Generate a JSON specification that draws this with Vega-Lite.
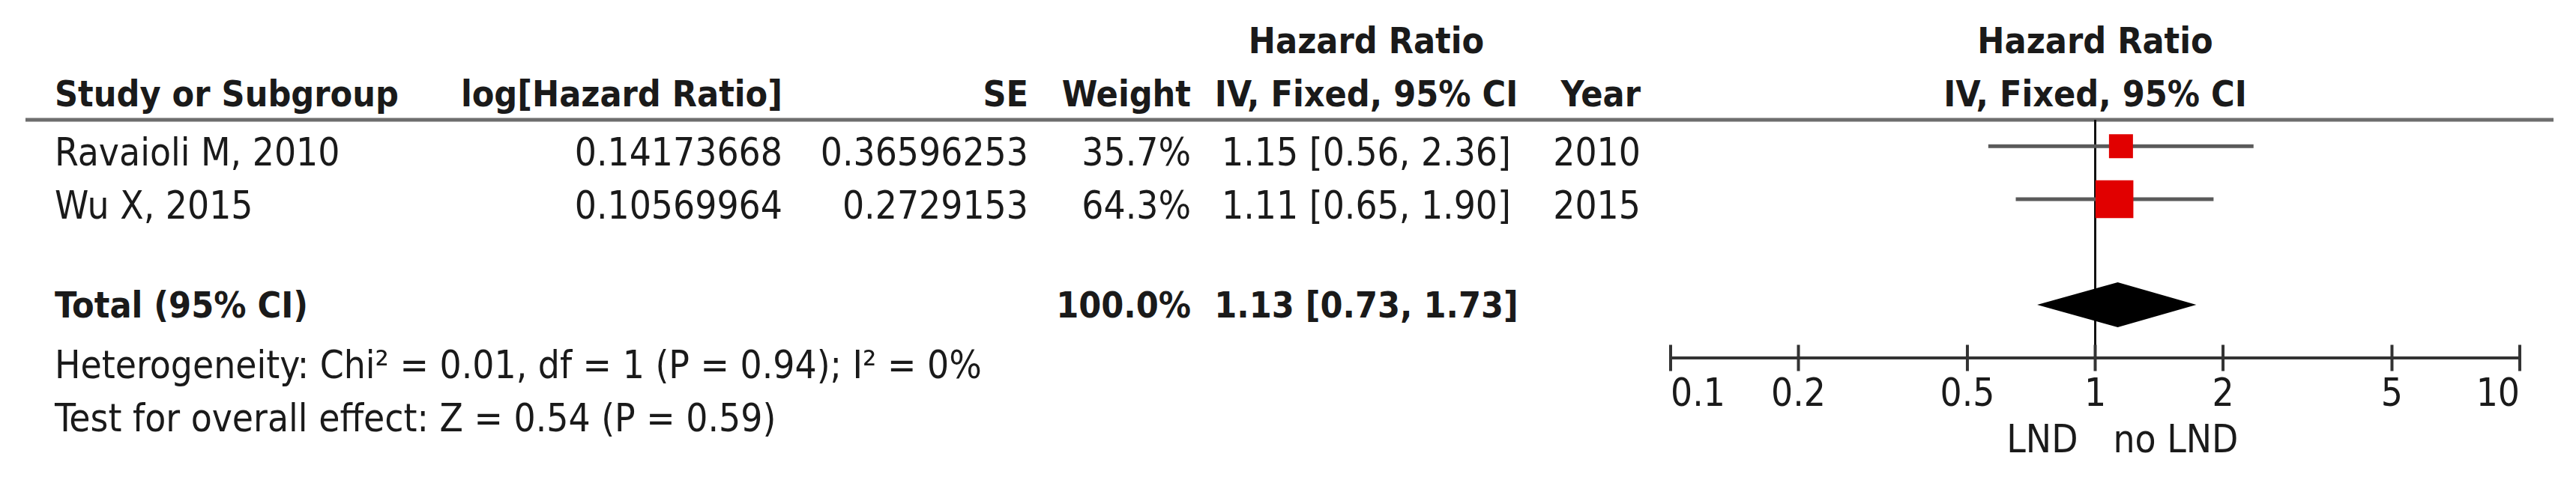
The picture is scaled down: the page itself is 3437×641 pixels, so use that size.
{
  "$schema": "https://vega.github.io/schema/vega-lite/v6.json",
  "background": "white",
  "padding": {"left": 31, "top": 0, "right": 0, "bottom": 20},
  "spacing": 0,
  "bounds": "flush",
  "config": {
    "view": {"stroke": null},
    "text": {"font": "DejaVu Sans Condensed, DejaVu Sans", "fontSize": 51, "color": "#1a1a1a", "baseline": "alphabetic"},
    "rule": {"color": "#6e6e6e", "strokeWidth": 5}
  },
  "datasets": {
    "studies": [
      {"study": "Ravaioli M, 2010", "logHR": "0.14173668", "SE": "0.36596253", "weightPct": "35.7%", "weight": 35.7, "hr": 1.15, "lo": 0.56, "hi": 2.36, "hrCI": "1.15 [0.56, 2.36]", "year": "2010", "row": 2},
      {"study": "Wu X, 2015", "logHR": "0.10569964", "SE": "0.2729153", "weightPct": "64.3%", "weight": 64.3, "hr": 1.11, "lo": 0.65, "hi": 1.90, "hrCI": "1.11 [0.65, 1.90]", "year": "2015", "row": 3}
    ],
    "pooled": [
      {"vertex": "lower", "hr": 0.73, "top": 0, "bottom": 0},
      {"vertex": "estimate", "hr": 1.13, "top": 1, "bottom": -1},
      {"vertex": "upper", "hr": 1.73, "top": 0, "bottom": 0}
    ],
    "labels": [
      {"part": "header", "col": "hrCI", "row": 0, "text": "Hazard Ratio"},
      {"part": "header", "col": "plot", "row": 0, "text": "Hazard Ratio"},
      {"part": "header", "col": "study", "row": 1, "text": "Study or Subgroup"},
      {"part": "header", "col": "logHR", "row": 1, "text": "log[Hazard Ratio]"},
      {"part": "header", "col": "SE", "row": 1, "text": "SE"},
      {"part": "header", "col": "weightPct", "row": 1, "text": "Weight"},
      {"part": "header", "col": "hrCI", "row": 1, "text": "IV, Fixed, 95% CI"},
      {"part": "header", "col": "year", "row": 1, "text": "Year"},
      {"part": "header", "col": "plot", "row": 1, "text": "IV, Fixed, 95% CI"},
      {"part": "total", "col": "study", "row": 5, "text": "Total (95% CI)"},
      {"part": "total", "col": "weightPct", "row": 5, "text": "100.0%"},
      {"part": "total", "col": "hrCI", "row": 5, "text": "1.13 [0.73, 1.73]"},
      {"part": "footer", "col": "study", "row": 6, "text": "Heterogeneity: Chi² = 0.01, df = 1 (P = 0.94); I² = 0%"},
      {"part": "footer", "col": "study", "row": 7, "text": "Test for overall effect: Z = 0.54 (P = 0.59)"},
      {"part": "favours", "col": "favoursLeft", "row": 7.4, "text": "LND"},
      {"part": "favours", "col": "favoursRight", "row": 7.4, "text": "no LND"}
    ],
    "axisTicks": [{"v": 0.1}, {"v": 0.2}, {"v": 0.5}, {"v": 1}, {"v": 2}, {"v": 5}, {"v": 10}]
  },
  "resolve": {"scale": {"x": "independent", "y": "independent"}},
  "hconcat": [
    {
      "width": 39, "height": 478,
      "data": {"values": [{"line": "header"}]},
      "mark": "rule",
      "encoding": {"y": {"datum": 1.5, "type": "quantitative", "scale": {"domain": [0, 6], "range": [54, 478]}, "axis": null}}
    },
    {
      "width": 530, "height": 478,
      "layer": [
        {"data": {"values": [{"line": "header"}]}, "mark": "rule",
         "encoding": {"y": {"datum": 1.5, "type": "quantitative", "scale": {"domain": [0, 6], "range": [54, 478]}, "axis": null}}},
        {"data": {"name": "labels"},
         "transform": [{"filter": "datum.col === 'study' && (datum.part === 'header' || datum.part === 'total')"}],
         "mark": {"type": "text", "align": "left", "dy": 17, "fontWeight": "bold", "fontSize": 48},
         "encoding": {"x": {"value": 0}, "y": {"field": "row", "type": "quantitative", "scale": {"domain": [0, 6], "range": [54, 478]}, "axis": null}, "text": {"field": "text"}}},
        {"data": {"name": "labels"},
         "transform": [{"filter": "datum.col === 'study' && datum.part === 'footer'"}],
         "mark": {"type": "text", "align": "left", "dy": 27},
         "encoding": {"x": {"value": 0}, "y": {"field": "row", "type": "quantitative", "scale": {"domain": [0, 6], "range": [54, 478]}, "axis": null}, "text": {"field": "text"}}},
        {"data": {"name": "studies"},
         "mark": {"type": "text", "align": "left", "dy": 26},
         "encoding": {"x": {"value": 0}, "y": {"field": "row", "type": "quantitative", "scale": {"domain": [0, 6], "range": [54, 478]}, "axis": null}, "text": {"field": "study"}}}
      ]
    },
    {
      "width": 441, "height": 478,
      "layer": [
        {"data": {"values": [{"line": "header"}]}, "mark": "rule",
         "encoding": {"y": {"datum": 1.5, "type": "quantitative", "scale": {"domain": [0, 6], "range": [54, 478]}, "axis": null}}},
        {"data": {"name": "labels"},
         "transform": [{"filter": "datum.col === 'logHR'"}],
         "mark": {"type": "text", "align": "right", "dy": 17, "fontWeight": "bold", "fontSize": 48},
         "encoding": {"x": {"value": "width"}, "y": {"field": "row", "type": "quantitative", "scale": {"domain": [0, 6], "range": [54, 478]}, "axis": null}, "text": {"field": "text"}}},
        {"data": {"name": "studies"},
         "mark": {"type": "text", "align": "right", "dy": 26},
         "encoding": {"x": {"value": "width"}, "y": {"field": "row", "type": "quantitative", "scale": {"domain": [0, 6], "range": [54, 478]}, "axis": null}, "text": {"field": "logHR"}}}
      ]
    },
    {
      "width": 328, "height": 478,
      "layer": [
        {"data": {"values": [{"line": "header"}]}, "mark": "rule",
         "encoding": {"y": {"datum": 1.5, "type": "quantitative", "scale": {"domain": [0, 6], "range": [54, 478]}, "axis": null}}},
        {"data": {"name": "labels"},
         "transform": [{"filter": "datum.col === 'SE'"}],
         "mark": {"type": "text", "align": "right", "dy": 17, "fontWeight": "bold", "fontSize": 48},
         "encoding": {"x": {"value": "width"}, "y": {"field": "row", "type": "quantitative", "scale": {"domain": [0, 6], "range": [54, 478]}, "axis": null}, "text": {"field": "text"}}},
        {"data": {"name": "studies"},
         "mark": {"type": "text", "align": "right", "dy": 26},
         "encoding": {"x": {"value": "width"}, "y": {"field": "row", "type": "quantitative", "scale": {"domain": [0, 6], "range": [54, 478]}, "axis": null}, "text": {"field": "SE"}}}
      ]
    },
    {
      "width": 217, "height": 478,
      "layer": [
        {"data": {"values": [{"line": "header"}]}, "mark": "rule",
         "encoding": {"y": {"datum": 1.5, "type": "quantitative", "scale": {"domain": [0, 6], "range": [54, 478]}, "axis": null}}},
        {"data": {"name": "labels"},
         "transform": [{"filter": "datum.col === 'weightPct'"}],
         "mark": {"type": "text", "align": "right", "dy": 17, "fontWeight": "bold", "fontSize": 48},
         "encoding": {"x": {"value": "width"}, "y": {"field": "row", "type": "quantitative", "scale": {"domain": [0, 6], "range": [54, 478]}, "axis": null}, "text": {"field": "text"}}},
        {"data": {"name": "studies"},
         "mark": {"type": "text", "align": "right", "dy": 26},
         "encoding": {"x": {"value": "width"}, "y": {"field": "row", "type": "quantitative", "scale": {"domain": [0, 6], "range": [54, 478]}, "axis": null}, "text": {"field": "weightPct"}}}
      ]
    },
    {
      "width": 468, "height": 478,
      "layer": [
        {"data": {"values": [{"line": "header"}]}, "mark": "rule",
         "encoding": {"y": {"datum": 1.5, "type": "quantitative", "scale": {"domain": [0, 6], "range": [54, 478]}, "axis": null}}},
        {"data": {"name": "labels"},
         "transform": [{"filter": "datum.col === 'hrCI'"}],
         "mark": {"type": "text", "align": "center", "dy": 17, "fontWeight": "bold", "fontSize": 48},
         "encoding": {"x": {"datum": "hrCI", "type": "nominal", "axis": null}, "y": {"field": "row", "type": "quantitative", "scale": {"domain": [0, 6], "range": [54, 478]}, "axis": null}, "text": {"field": "text"}}},
        {"data": {"name": "studies"},
         "mark": {"type": "text", "align": "center", "dy": 26},
         "encoding": {"x": {"datum": "hrCI", "type": "nominal", "axis": null}, "y": {"field": "row", "type": "quantitative", "scale": {"domain": [0, 6], "range": [54, 478]}, "axis": null}, "text": {"field": "hrCI"}}}
      ]
    },
    {
      "width": 132, "height": 478,
      "layer": [
        {"data": {"values": [{"line": "header"}]}, "mark": "rule",
         "encoding": {"y": {"datum": 1.5, "type": "quantitative", "scale": {"domain": [0, 6], "range": [54, 478]}, "axis": null}}},
        {"data": {"name": "labels"},
         "transform": [{"filter": "datum.col === 'year'"}],
         "mark": {"type": "text", "align": "right", "dy": 17, "fontWeight": "bold", "fontSize": 48},
         "encoding": {"x": {"value": "width"}, "y": {"field": "row", "type": "quantitative", "scale": {"domain": [0, 6], "range": [54, 478]}, "axis": null}, "text": {"field": "text"}}},
        {"data": {"name": "studies"},
         "mark": {"type": "text", "align": "right", "dy": 26},
         "encoding": {"x": {"value": "width"}, "y": {"field": "row", "type": "quantitative", "scale": {"domain": [0, 6], "range": [54, 478]}, "axis": null}, "text": {"field": "year"}}}
      ]
    },
    {
      "width": 40, "height": 478,
      "data": {"values": [{"line": "header"}]},
      "mark": "rule",
      "encoding": {"y": {"datum": 1.5, "type": "quantitative", "scale": {"domain": [0, 6], "range": [54, 478]}, "axis": null}}
    },
    {
      "width": 1133, "height": 478,
      "resolve": {"scale": {"y": "independent"}},
      "layer": [
        {"data": {"values": [{"line": "header"}]}, "mark": "rule",
         "encoding": {"y": {"datum": 1.5, "type": "quantitative", "scale": {"domain": [0, 6], "range": [54, 478]}, "axis": null}}},
        {"data": {"values": [{"line": "no effect"}]},
         "mark": {"type": "rule", "color": "#111111", "strokeWidth": 3},
         "encoding": {
           "x": {"datum": 1, "type": "quantitative", "scale": {"type": "log", "domain": [0.1, 10], "nice": false}, "axis": null},
           "y": {"datum": 1.5, "type": "quantitative", "scale": {"domain": [0, 6], "range": [54, 478]}, "axis": null},
           "y2": {"datum": 6}
         }},
        {"data": {"name": "studies"},
         "mark": {"type": "rule", "color": "#5a5a5a", "strokeWidth": 5},
         "encoding": {
           "x": {"field": "lo", "type": "quantitative", "scale": {"type": "log", "domain": [0.1, 10], "nice": false}, "axis": null},
           "x2": {"field": "hi"},
           "y": {"field": "row", "type": "quantitative", "scale": {"domain": [0, 6], "range": [54, 478]}, "axis": null}
         }},
        {"data": {"name": "studies"},
         "mark": {"type": "point", "shape": "square", "filled": true, "opacity": 1, "color": "#e10000", "strokeWidth": 0},
         "encoding": {
           "x": {"field": "hr", "type": "quantitative", "scale": {"type": "log", "domain": [0.1, 10], "nice": false}, "axis": null},
           "y": {"field": "row", "type": "quantitative", "scale": {"domain": [0, 6], "range": [54, 478]}, "axis": null},
           "size": {"field": "weight", "type": "quantitative", "scale": {"domain": [35.7, 64.3], "range": [1024, 2550]}, "legend": null}
         }},
        {"data": {"name": "pooled"},
         "mark": {"type": "area", "orient": "vertical", "color": "#000000", "opacity": 1},
         "encoding": {
           "x": {"field": "hr", "type": "quantitative", "scale": {"type": "log", "domain": [0.1, 10], "nice": false}, "axis": null},
           "y": {"field": "top", "type": "quantitative", "scale": {"domain": [-1, 1], "range": [437, 377]}, "axis": null},
           "y2": {"field": "bottom"}
         }},
        {"data": {"name": "axisTicks"},
         "mark": {"type": "rule", "color": "#333333", "strokeWidth": 4},
         "encoding": {
           "x": {"aggregate": "min", "field": "v", "type": "quantitative", "scale": {"type": "log", "domain": [0.1, 10], "nice": false}, "axis": null},
           "x2": {"aggregate": "max", "field": "v"},
           "y": {"datum": 6, "type": "quantitative", "scale": {"domain": [0, 6], "range": [54, 478]}, "axis": null}
         }},
        {"data": {"name": "axisTicks"},
         "mark": {"type": "tick", "orient": "vertical", "thickness": 4, "color": "#333333", "opacity": 1},
         "encoding": {
           "x": {"field": "v", "type": "quantitative", "scale": {"type": "log", "domain": [0.1, 10], "nice": false}, "axis": null},
           "y": {"datum": 6, "type": "quantitative", "scale": {"domain": [0, 6], "range": [54, 478]}, "axis": null},
           "size": {"value": 35}
         }},
        {"data": {"name": "axisTicks"},
         "transform": [{"filter": "datum.v === 0.1"}],
         "mark": {"type": "text", "align": "left", "dy": 64},
         "encoding": {
           "x": {"field": "v", "type": "quantitative", "scale": {"type": "log", "domain": [0.1, 10], "nice": false}, "axis": null},
           "y": {"datum": 6, "type": "quantitative", "scale": {"domain": [0, 6], "range": [54, 478]}, "axis": null},
           "text": {"field": "v", "type": "quantitative", "format": "~g"}
         }},
        {"data": {"name": "axisTicks"},
         "transform": [{"filter": "datum.v !== 0.1 && datum.v !== 10"}],
         "mark": {"type": "text", "align": "center", "dy": 64},
         "encoding": {
           "x": {"field": "v", "type": "quantitative", "scale": {"type": "log", "domain": [0.1, 10], "nice": false}, "axis": null},
           "y": {"datum": 6, "type": "quantitative", "scale": {"domain": [0, 6], "range": [54, 478]}, "axis": null},
           "text": {"field": "v", "type": "quantitative", "format": "~g"}
         }},
        {"data": {"name": "axisTicks"},
         "transform": [{"filter": "datum.v === 10"}],
         "mark": {"type": "text", "align": "right", "dy": 64},
         "encoding": {
           "x": {"field": "v", "type": "quantitative", "scale": {"type": "log", "domain": [0.1, 10], "nice": false}, "axis": null},
           "y": {"datum": 6, "type": "quantitative", "scale": {"domain": [0, 6], "range": [54, 478]}, "axis": null},
           "text": {"field": "v", "type": "quantitative", "format": "~g"}
         }},
        {"data": {"name": "labels"},
         "transform": [{"filter": "datum.col === 'plot'"}],
         "mark": {"type": "text", "align": "center", "dy": 17, "fontWeight": "bold", "fontSize": 48},
         "encoding": {
           "x": {"datum": 1, "type": "quantitative", "scale": {"type": "log", "domain": [0.1, 10], "nice": false}, "axis": null},
           "y": {"field": "row", "type": "quantitative", "scale": {"domain": [0, 6], "range": [54, 478]}, "axis": null},
           "text": {"field": "text"}
         }},
        {"data": {"name": "labels"},
         "transform": [{"filter": "datum.col === 'favoursLeft'"}],
         "mark": {"type": "text", "align": "right", "dy": 27, "dx": -23},
         "encoding": {
           "x": {"datum": 1, "type": "quantitative", "scale": {"type": "log", "domain": [0.1, 10], "nice": false}, "axis": null},
           "y": {"field": "row", "type": "quantitative", "scale": {"domain": [0, 6], "range": [54, 478]}, "axis": null},
           "text": {"field": "text"}
         }},
        {"data": {"name": "labels"},
         "transform": [{"filter": "datum.col === 'favoursRight'"}],
         "mark": {"type": "text", "align": "left", "dy": 27, "dx": 24},
         "encoding": {
           "x": {"datum": 1, "type": "quantitative", "scale": {"type": "log", "domain": [0.1, 10], "nice": false}, "axis": null},
           "y": {"field": "row", "type": "quantitative", "scale": {"domain": [0, 6], "range": [54, 478]}, "axis": null},
           "text": {"field": "text"}
         }}
      ]
    },
    {
      "width": 45, "height": 478,
      "data": {"values": [{"line": "header"}]},
      "mark": "rule",
      "encoding": {"y": {"datum": 1.5, "type": "quantitative", "scale": {"domain": [0, 6], "range": [54, 478]}, "axis": null}}
    }
  ]
}
